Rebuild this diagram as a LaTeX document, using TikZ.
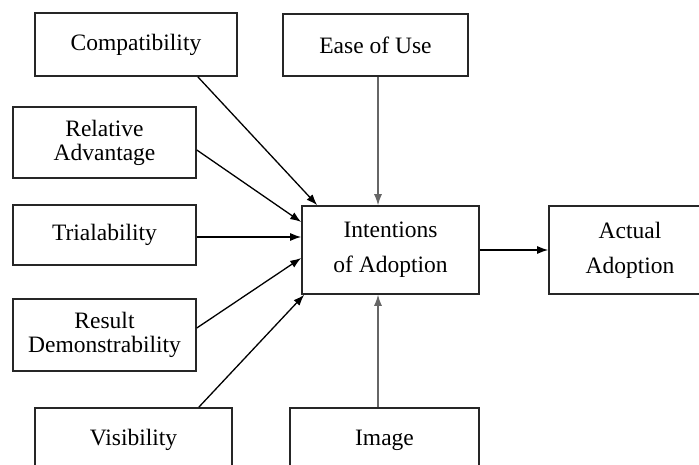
\documentclass[tikz,border=0pt]{standalone}
\usepackage{fontspec}
\setmainfont{Liberation Serif}
\usetikzlibrary{arrows}
\usetikzlibrary{arrows.meta}
\usetikzlibrary{positioning}
\tikzset{>=latex}
\tikzstyle{factor} = [rectangle, draw=black!85, line width=1.6pt, align=center, inner sep=0, font=\fontsize{23.5}{24}\selectfont]
\tikzstyle{link} = [-{Latex[length=11pt,width=8pt]}, line width=1.3pt, draw=black]
\tikzstyle{vlink} = [-{Latex[length=11pt,width=8pt]}, line width=1.1pt, draw=black!60]

\begin{document}
\begin{tikzpicture}[x=1pt, y=-1pt]
\useasboundingbox (0,0) rectangle (699,465);
\clip (0,0) rectangle (699,465);
%\fill [white] (0,0) rectangle (699,465);
\node [factor, minimum width=202pt, minimum height=63pt] (compat) at (136, 44.5) {Compatibility};
\node [factor, minimum width=185pt, minimum height=62pt] (ease) at (375.5, 45) {Ease of Use};
\node [factor, minimum width=183pt, minimum height=71pt] (reladv) at (104.5, 142.5) {Relative\\Advantage};
\node [factor, minimum width=183pt, minimum height=60pt] (trial) at (104.5, 235) {Trialability};
\node [factor, minimum width=183pt, minimum height=72pt] (result) at (104.5, 335) {Result\\Demonstrability};
\node [factor, minimum width=197pt, minimum height=64pt] (visib) at (133.5, 440) {Visibility};
\node [factor, minimum width=189pt, minimum height=64pt] (image) at (384.5, 440) {Image};
\node [factor, minimum width=177pt, minimum height=88pt] (intent) at (390.5, 250) {Intentions\\[11pt]of Adoption};
\node [factor, minimum width=162pt, minimum height=88pt] (actual) at (630, 250) {Actual\\[11pt]Adoption};
\draw [link] ([xshift=-40pt]compat.south east) to ([xshift=16pt]intent.north west);
\draw [link] ([yshift=-7.5pt]reladv.east) to ([yshift=28pt]intent.west);
\draw [link] ([yshift=-2pt]trial.east) to ([yshift=13pt]intent.west);
\draw [link] ([yshift=7pt]result.east) to ([yshift=-8pt]intent.west);
\draw [link] ([xshift=-34pt]visib.north east) to ([xshift=3pt]intent.south west);
\draw [vlink] ([xshift=2.5pt]ease.south) to ([xshift=2.5pt]ease.south |- intent.north);
\draw [vlink] ([xshift=-6.5pt]image.north) to ([xshift=-6.5pt]image.north |- intent.south);
\draw [link] (intent) to (actual);
\end{tikzpicture}
\end{document}
